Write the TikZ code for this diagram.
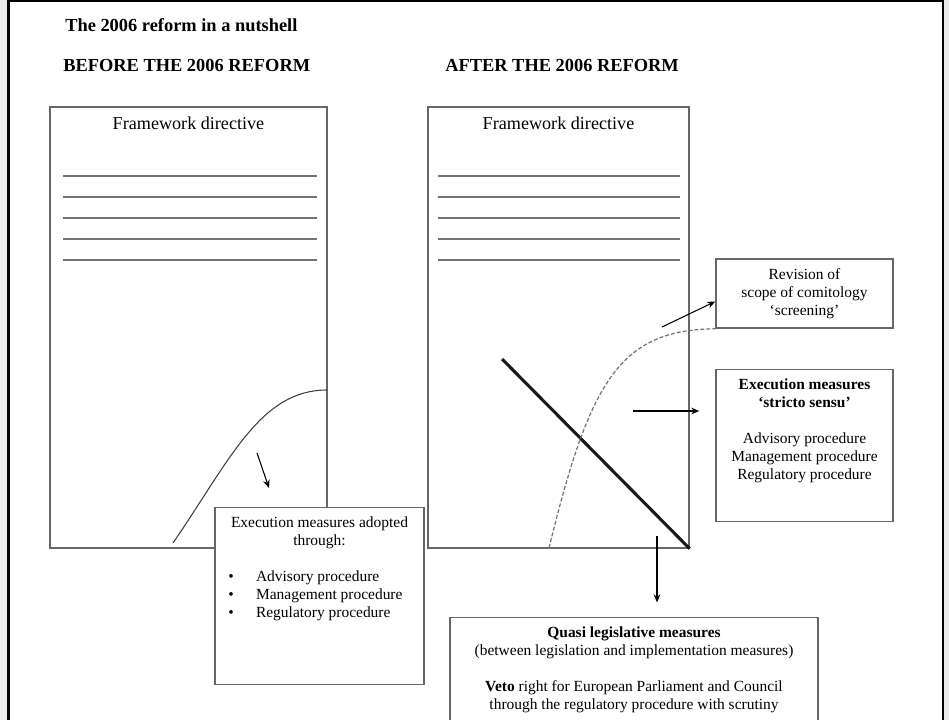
\documentclass[tikz,border=0pt]{standalone}
\usepackage{fontspec}
\setmainfont{Liberation Serif}
\usetikzlibrary{positioning}
\usetikzlibrary{arrows.meta}

\begin{document}
\begin{tikzpicture}[
        x=0.75pt, y=-0.75pt,
        heading/.style={anchor=west, inner sep=0pt, font=\fontsize{13.8}{16}\selectfont\bfseries},
        doc/.style={rectangle, draw=black!60, line width=1.1pt, inner sep=0pt},
        doclabel/.style={inner sep=0pt, font=\fontsize{13.6}{16}\selectfont},
        rule/.style={draw=black!55, line width=1.4pt},
        panel/.style={rectangle, draw=black!60, line width=1.1pt, fill=white, anchor=north, inner xsep=4pt, inner ysep=7pt, font=\fontsize{11.6}{13.5}\selectfont},
        textbox/.style={rectangle, draw=black!60, line width=1.1pt, fill=white, align=center, minimum width=132.75pt, minimum height=51.75pt, font=\fontsize{11.6}{13.5}\selectfont},
        arrow/.style={line width=0.8pt, -{Stealth[length=6pt,width=5pt]}},
        curve/.style={draw=black!75, line width=0.8pt},
        dotcurve/.style={draw=black!55, line width=0.9pt, dash pattern=on 3pt off 1.5pt},
        slash/.style={draw=black!90, line width=2.3pt}
    ]
        \useasboundingbox (0,0) rectangle (949,720);
        \clip (0,0) rectangle (949,720);

        % page and frame
        \fill[black!8] (0,0) rectangle (949,720);
        \draw[fill=white, line width=2pt] (8.5,1) rectangle (943,740);

        % headings
        \node[heading] (title) at (65,25) {The 2006 reform in a nutshell};
        \node[heading] (before) at (63,65) {BEFORE THE 2006 REFORM};
        \node[heading] (after) at (445,65) {AFTER THE 2006 REFORM};

        % framework directives
        \node[doc, minimum width=207.75pt, minimum height=330.75pt] (docL) at (188.5,327.5) {};
        \node[doc, minimum width=195.75pt, minimum height=330.75pt] (docR) at (558.5,327.5) {};
        \node[doclabel, below=8pt of docL.north] (fwL) {Framework directive};
        \node[doclabel, below=8pt of docR.north] (fwR) {Framework directive};
        \foreach \y in {176,197,...,260} {
            \draw[rule] (63,\y) -- (317,\y);
            \draw[rule] (438,\y) -- (680,\y);
        }

        % before the reform
        \coordinate (curveLstart) at (173,543);
        \coordinate (curveLend) at (327,390);
        \draw[curve] (curveLstart) .. controls (230,460) and (260,390) .. (curveLend);
        \coordinate (arrLtail) at (257,453);
        \coordinate (arrLhead) at (269,488);
        \draw[arrow] (arrLtail) -- (arrLhead);
        \node[panel] (lbox) at (319.5,507) {\parbox[t][118.75pt][t]{148.75pt}{\centering
            Execution measures adopted\\ through:\par\vspace{13.5pt}\raggedright
            \hspace*{6pt}\makebox[20.8pt][l]{\textbullet}Advisory procedure\\
            \hspace*{6pt}\makebox[20.8pt][l]{\textbullet}Management procedure\\
            \hspace*{6pt}\makebox[20.8pt][l]{\textbullet}Regulatory procedure}};

        % after the reform
        \node[textbox] (rev) at (804.5,293.5) {Revision of\\ scope of comitology\\ `screening'};
        \node[panel] (exec) at (804.5,369) {\parbox[t][100pt][t]{124.75pt}{\centering
            \textbf{Execution measures\\ `stricto sensu'}\\[13.5pt]
            Advisory procedure\\ Management procedure\\ Regulatory procedure}};
        \node[panel] (quasi) at (634,617) {\parbox[t][90pt][t]{268pt}{\centering
            \textbf{Quasi legislative measures}\\
            (between legislation and implementation measures)\\[13.5pt]
            \textbf{Veto} right for European Parliament and Council\\
            through the regulatory procedure with scrutiny}};

        \coordinate (diagtop) at (502,359);
        \draw[slash] (diagtop) -- (docR.south east);
        \coordinate (dotstart) at (549,548);
        \draw[dotcurve] (dotstart) .. controls (590,380) and (620,330) .. (rev.south west);

        % arrows
        \coordinate (revtail) at (662,327);
        \draw[arrow] (revtail) -- ([yshift=-6pt]rev.west);
        \coordinate (exectail) at (633,411);
        \draw[arrow, shorten >=12pt] (exectail) -- (exectail -| exec.west);
        \coordinate (quasitail) at (657,536);
        \draw[arrow, shorten >=11pt] (quasitail) -- (quasitail |- quasi.north);
    \end{tikzpicture}
\end{document}
